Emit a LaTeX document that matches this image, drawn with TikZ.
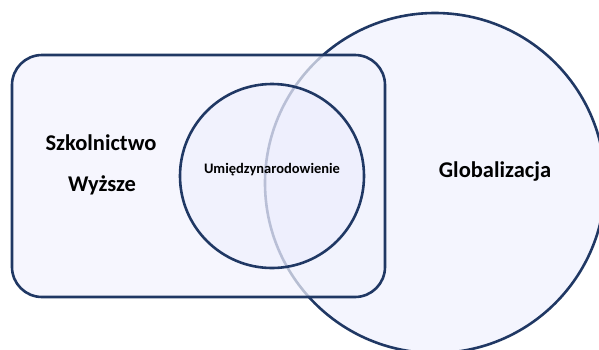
\documentclass[tikz,border=0pt]{standalone}
\usepackage{fontspec}
\setmainfont{Carlito}
\definecolor{navy}{HTML}{203864}
\definecolor{paleblue}{HTML}{F4F5FE}
\definecolor{rectfill}{HTML}{F2F3FD}
\begin{document}
\begin{tikzpicture}[x=1pt,y=-1pt,
  outline/.style={draw=navy,line width=2.6pt},
  label/.style={font=\bfseries,text=black,inner sep=0pt}]
\useasboundingbox (0,0) rectangle (599,349);
\clip (0,0) rectangle (599,349);
% large circle
\fill[paleblue] (435,183) circle[radius=170];
\draw[outline] (435,183) circle[radius=170];
% rounded rectangle, translucent over the large circle
\path[fill=rectfill,fill opacity=0.72,draw=navy,line width=2.6pt,rounded corners=30pt]
  (12,55) rectangle (385,297);
% inner circle
\path[fill=blue!20!white,fill opacity=0.10,draw=navy,line width=2.6pt]
  (272,176) circle[radius=92];
% labels
\node[label,font=\bfseries\fontsize{22.5}{26}\selectfont] (sz) at (101,143) {Szkolnictwo};
\node[label,font=\bfseries\fontsize{22.5}{26}\selectfont] (wy) at (102,185) {Wyższe};
\node[label,font=\bfseries\fontsize{14.5}{17}\selectfont] (um) at (272,170) {Umiędzynarodowienie};
\node[label,font=\bfseries\fontsize{22.5}{26}\selectfont] (gl) at (495,172) {Globalizacja};
\end{tikzpicture}
\end{document}
